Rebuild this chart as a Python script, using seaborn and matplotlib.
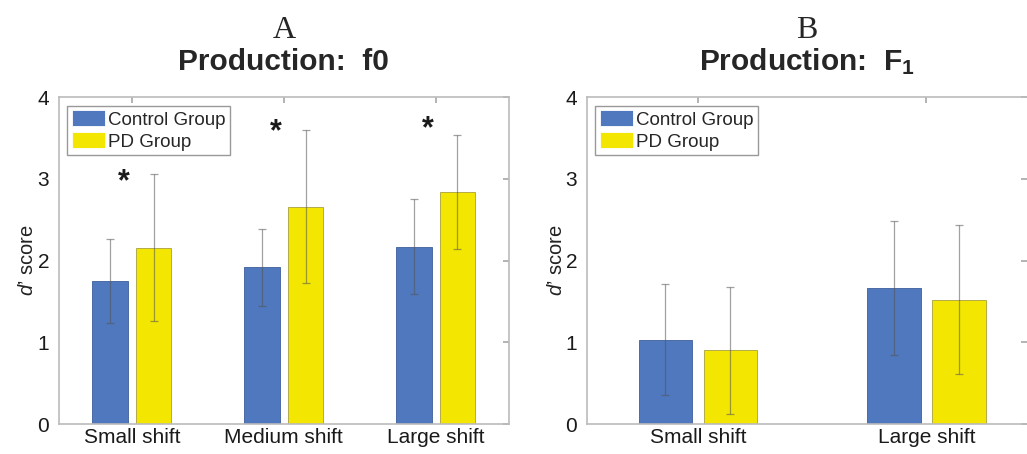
import pandas as pd
import matplotlib.pyplot as plt
import numpy as np
import seaborn as sns

# panel A: f0
f0_shifts = ['Small shift', 'Medium shift', 'Large shift']
f0_control = [1.75, 1.92, 2.17]
f0_control_sd = [0.51, 0.47, 0.58]
f0_pd = [2.16, 2.66, 2.84]
f0_pd_sd = [0.90, 0.94, 0.70]
f0_star_y = [3.02, 3.63, 3.67]

# panel B: F1
f1_shifts = ['Small shift', 'Large shift']
f1_control = [1.03, 1.66]
f1_control_sd = [0.68, 0.82]
f1_pd = [0.90, 1.52]
f1_pd_sd = [0.78, 0.91]

groups = ['Control Group', 'PD Group']
colors = ['#4F78BF', '#F3E600']
edges = ['#3E5E9A', '#A8A040']


def make_frame(shifts, control, pd_vals):
	return pd.DataFrame({
		'Shift': shifts * 2,
		'Group': [groups[0]] * len(shifts) + [groups[1]] * len(shifts),
		'Score': control + pd_vals,
	})


def draw_panel(ax, shifts, control, control_sd, pd_vals, pd_sd, letter, title):
	df = make_frame(shifts, control, pd_vals)
	sns.barplot(data=df, x='Shift', y='Score', hue='Group', hue_order=groups,
				palette=colors, saturation=1, errorbar=None, width=0.57, gap=0.18,
				ax=ax, linewidth=0.6)
	for cont, sds, ec in zip(ax.containers, [control_sd, pd_sd], edges):
		xs = [p.get_x() + p.get_width() / 2 for p in cont.patches]
		ys = [p.get_height() for p in cont.patches]
		for p in cont.patches:
			p.set_edgecolor(ec)
		ax.errorbar(xs, ys, yerr=sds, fmt='none', ecolor='#555555', alpha=0.55,
					elinewidth=0.9, capsize=3, capthick=0.9)
	ax.set_ylim(0, 4)
	ax.set_yticks([0, 1, 2, 3, 4])
	ax.set_xlabel('')
	ax.set_ylabel(r"$d$’ score", fontsize=14.5, color='#222222', labelpad=0)
	for s in ax.spines.values():
		s.set_color('#BBBBBB')
		s.set_linewidth(1.2)
	ax.tick_params(direction='in', length=4, color='#AAAAAA', labelsize=15,
				   labelcolor='#1A1A1A', top=True, right=True, pad=7)
	ax.tick_params(axis='x', pad=3)
	leg = ax.legend(loc='upper left', fontsize=13.5, frameon=True, fancybox=False,
					edgecolor='#999999', framealpha=1, borderaxespad=0.45,
					handlelength=1.75, handleheight=0.95, handletextpad=0.15,
					borderpad=0.25, labelspacing=0.18)
	leg.get_frame().set_linewidth(1.0)
	ax.text(0.5, 1.205, letter, transform=ax.transAxes, ha='center', va='center',
			fontsize=23, family='Liberation Serif')
	ax.text(0.5, 1.108, title, transform=ax.transAxes, ha='center', va='center',
			fontsize=21.5, fontweight='bold')


sns.set_theme(style='white')
plt.rcParams['font.family'] = ['Liberation Sans', 'DejaVu Sans']
plt.rcParams['mathtext.fontset'] = 'custom'
plt.rcParams['mathtext.it'] = 'Liberation Sans:italic'
plt.rcParams['mathtext.rm'] = 'Liberation Sans'
plt.rcParams['mathtext.bf'] = 'Liberation Sans:bold'

fig = plt.figure(figsize=(10.27, 4.54), dpi=100)
ax1 = fig.add_axes([0.0574, 0.066, 0.438, 0.720])
ax2 = fig.add_axes([0.5716, 0.066, 0.4284, 0.720])

draw_panel(ax1, f0_shifts, f0_control, f0_control_sd, f0_pd, f0_pd_sd,
		   'A', 'Production:  f0')
ax1.set_xlim(-0.48, 2.48)
for i, y in enumerate(f0_star_y):
	ax1.text(i - 0.05, y - 0.06, '*', ha='center', va='center', fontsize=22,
			 fontweight='bold', color='#1A1A1A')

draw_panel(ax2, f1_shifts, f1_control, f1_control_sd, f1_pd, f1_pd_sd,
		   'B', r'Production:  F$_\mathbf{1}$')
ax2.set_xlim(-0.485, 1.44)
ax2.spines['right'].set_visible(False)

fig.savefig('out.png', dpi=100)
